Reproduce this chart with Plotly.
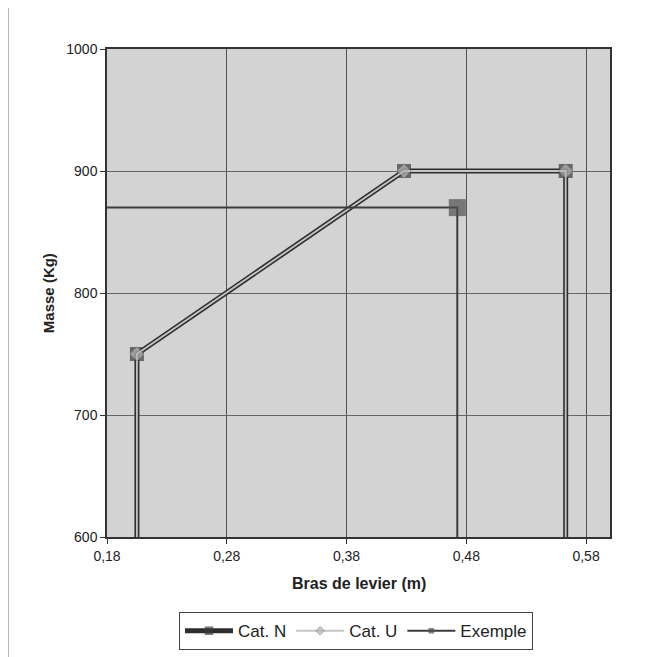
import plotly.graph_objects as go

# Data
env_x = [0.205, 0.205, 0.428, 0.563, 0.563]
env_y = [600, 750, 900, 900, 600]
env_marker = [0, 1, 1, 1, 0]

ex_x = [0.18, 0.4725, 0.4725]
ex_y = [870, 870, 600]
ex_marker = [0, 1, 0]

x_ticks = [0.18, 0.28, 0.38, 0.48, 0.58]
y_ticks = [600, 700, 800, 900, 1000]

FONT = "Liberation Sans, Arial, sans-serif"

fig = go.Figure()

fig.add_trace(go.Scatter(
    x=env_x, y=env_y, name="Cat. N", mode="lines+markers",
    line=dict(color="#2e2e2e", width=5),
    marker=dict(symbol="square", color="#3a3a3a",
                size=[14 * m for m in env_marker],
                line=dict(width=0)),
))
fig.add_trace(go.Scatter(
    x=env_x, y=env_y, name="Cat. U", mode="lines+markers",
    line=dict(color="#c4c4c4", width=1.8),
    marker=dict(symbol="diamond", color="#b5b5b5",
                size=[11 * m for m in env_marker],
                line=dict(width=1, color="#888888")),
))
fig.add_trace(go.Scatter(
    x=ex_x, y=ex_y, name="Exemple", mode="lines+markers",
    line=dict(color="#3c3c3c", width=2),
    marker=dict(symbol="square", color="#505050",
                size=[17 * m for m in ex_marker],
                line=dict(width=0)),
))

fig.update_layout(
    width=646, height=657,
    margin=dict(l=99, r=44, t=41, b=128),
    paper_bgcolor="#ffffff",
    plot_bgcolor="#d3d3d3",
    separators=", ",
    font=dict(family=FONT, size=14, color="#222222"),
    showlegend=True,
    legend=dict(
        orientation="h", x=0.495, y=-0.193, xanchor="center", yanchor="middle",
        bgcolor="#ffffff", bordercolor="#444444", borderwidth=1,
        font=dict(family=FONT, size=17, color="#222222"),
        itemwidth=48, tracegroupgap=0,
    ),
    xaxis=dict(
        range=[0.18, 0.6], tickvals=x_ticks, tickformat=".2f",
        showgrid=True, gridcolor="#555555", gridwidth=1,
        showline=True, mirror=True, linecolor="#333333", linewidth=1.5,
        ticks="outside", ticklen=5, tickcolor="#333333",
        zeroline=False, automargin=False,
    ),
    yaxis=dict(
        range=[600, 1000], tickvals=y_ticks,
        showgrid=True, gridcolor="#5f6b5f", gridwidth=1,
        showline=True, mirror=True, linecolor="#333333", linewidth=1.5,
        ticks="outside", ticklen=5, tickcolor="#333333",
        zeroline=False, automargin=False,
    ),
    annotations=[
        dict(text="<b>Bras de levier (m)</b>", xref="paper", yref="paper",
             x=0.5, y=-0.095, xanchor="center", yanchor="middle", showarrow=False,
             font=dict(family=FONT, size=16, color="#222222")),
        dict(text="<b>Masse (Kg)</b>", xref="paper", yref="paper",
             x=-0.117, y=0.5, xanchor="center", yanchor="middle", showarrow=False,
             textangle=-90, font=dict(family=FONT, size=15, color="#222222")),
    ],
)

# frame line at the left of the page (scan border)
fig.add_shape(type="line", xref="paper", yref="paper",
              x0=-0.197, x1=-0.197, y0=-0.25, y1=1.1,
              line=dict(color="#555555", width=1))

fig.write_html("out.html")
